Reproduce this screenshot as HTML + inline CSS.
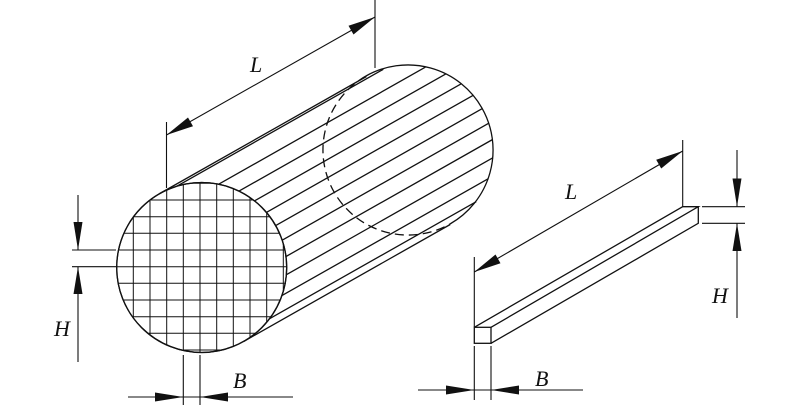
<!DOCTYPE html>
<html><head><meta charset="utf-8"><style>html,body{margin:0;padding:0;background:#fff}svg{display:block}</style></head>
<body>
<svg width="800" height="405" viewBox="0 0 800 405" xmlns="http://www.w3.org/2000/svg" font-family="Liberation Serif, serif" font-style="italic" font-size="22">
<defs>
<clipPath id="c"><circle cx="201.7" cy="267.5" r="85"/></clipPath>
</defs>
<g stroke="#111" stroke-width="1.3" fill="none">
<path d="M366,76 A85,85 0 0 1 450,224"/>
<path d="M366,76 A85,85 0 0 0 450,224" stroke-dasharray="9,5"/>
<path d="M159.8,193.5 l206.6,-117 M243.6,341.5 l206.6,-117"/>
<path d="M176.7,186.3 l206.6,-117 M218.7,184.2 l206.6,-117 M239,191.1 l206.6,-117 M254.4,200.9 l206.6,-117 M266.4,212.4 l206.6,-117 M275.7,225.6 l206.6,-117 M282.2,240.2 l206.6,-117 M286,256.5 l206.6,-117 M286.4,274.7 l206.6,-117 M281.9,295.6 l206.6,-117 M269.6,318.7 l206.6,-117"/>
<circle cx="201.7" cy="267.5" r="85" fill="#fff"/>
<g clip-path="url(#c)" stroke-width="1">
<path d="M133.3,170V360M150,170V360M166.7,170V360M183.3,170V360M200,170V360M216.7,170V360M233.3,170V360M250,170V360M266.7,170V360M283.3,170V360
M110,183.3H300M110,200H300M110,216.7H300M110,233.3H300M110,250H300M110,266.7H300M110,283.3H300M110,300H300M110,316.7H300M110,333.3H300M110,350H300"/>
</g>
<circle cx="201.7" cy="267.5" r="85"/>
<path d="M166.5,122V188 M375,0V68 M166.5,135 L375,17" stroke-width="1.1"/>
<path d="M72,250H116 M72,266.7H116 M78,195V250 M78,266.7V362" stroke-width="1.1"/>
<path d="M183.3,355V405 M200,355V405 M128,397H293" stroke-width="1.1"/>
<rect x="474.3" y="327.3" width="16.7" height="16" />
<path d="M474.3,327.3 L682.7,206.7 L698.3,206.7 L491,327.3 M491,343.3 L698.3,223.3 V206.7"/>
<path d="M474.3,257V327 M682.7,140V207 M474.3,272 L682.7,151" stroke-width="1.1"/>
<path d="M702,206.7H745 M702,223.3H745 M737,150V207 M737,223.3V318" stroke-width="1.1"/>
<path d="M474.3,346V400 M491,346V400 M418,390H583" stroke-width="1.1"/>
</g>
<g fill="#111" stroke="none">
<polygon points="166.5,135 188,117.5 193,126.2"/>
<polygon points="375,17 348.5,25.8 353.5,34.5"/>
<polygon points="78,250 73.5,222 82.5,222"/>
<polygon points="78,266.7 73.5,294 82.5,294"/>
<polygon points="183.3,397 155,392.5 155,401.5"/>
<polygon points="200,397 228,392.5 228,401.5"/>
<polygon points="474.3,272 495.5,254.5 500.5,263.2"/>
<polygon points="682.7,151 656.2,159.8 661.2,168.5"/>
<polygon points="737,206.7 732.5,178.5 741.5,178.5"/>
<polygon points="737,223.3 732.5,251 741.5,251"/>
<polygon points="474.3,390 446,385.5 446,394.5"/>
<polygon points="491,390 519,385.5 519,394.5"/>
</g>
<g fill="#111">
<text x="250" y="72">L</text>
<text x="54" y="336">H</text>
<text x="233" y="388">B</text>
<text x="565" y="199">L</text>
<text x="712" y="303">H</text>
<text x="535" y="386">B</text>
</g>
</svg>
</body></html>
